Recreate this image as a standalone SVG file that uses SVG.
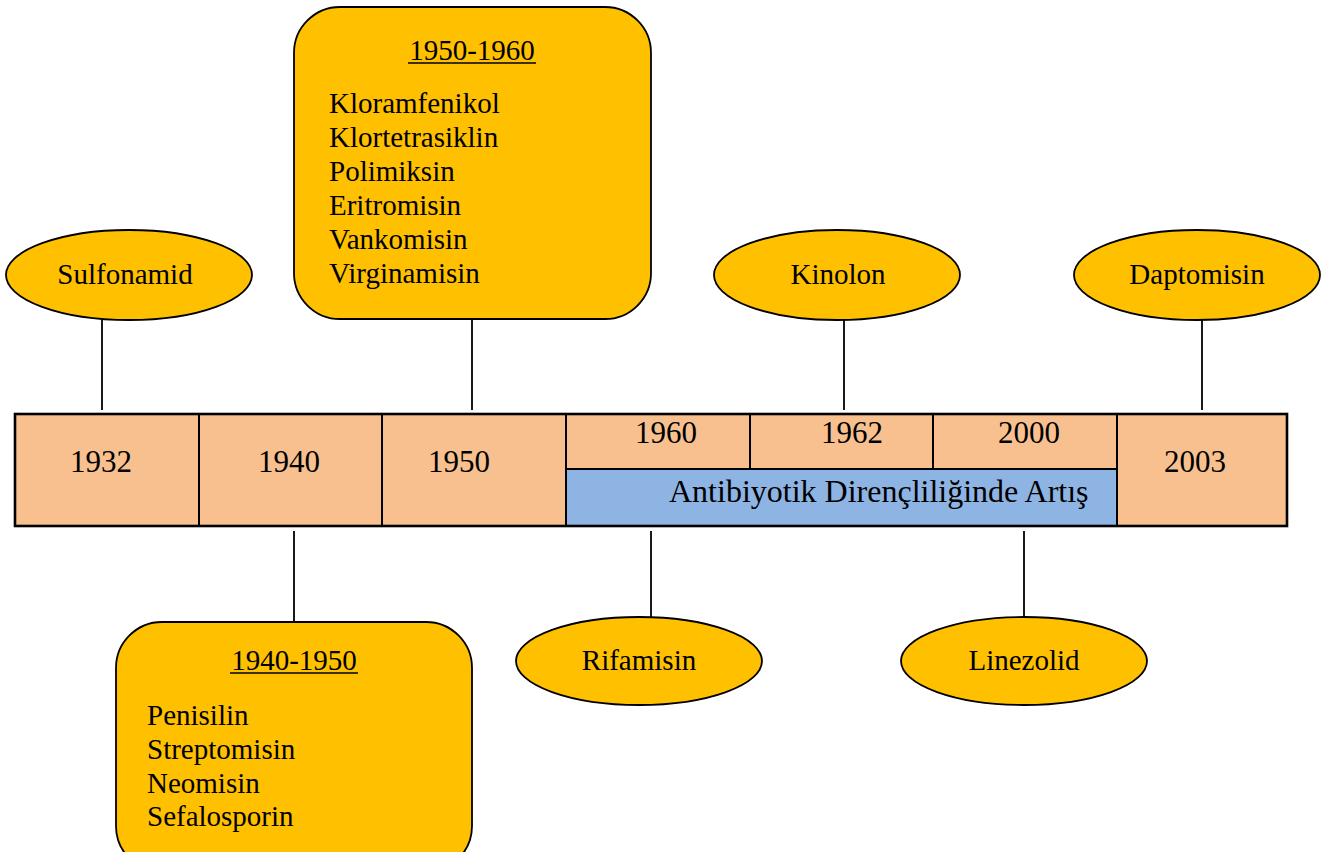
<svg xmlns="http://www.w3.org/2000/svg" width="1328" height="852" viewBox="0 0 1328 852">
<style>
text{font-family:"Liberation Serif","Times New Roman",serif;fill:#000}
.lbl{font-size:29px}
.yr{font-size:31px;text-anchor:middle}
.c{text-anchor:middle}
.gold{fill:#FFC000;stroke:#000;stroke-width:1.8}
.peach{fill:#F8C08F;stroke:#000;stroke-width:2}
.blue{fill:#8EB4E3;stroke:#000;stroke-width:2}
.conn line{stroke:#000;stroke-width:1.8}
</style>
<rect width="1328" height="852" fill="#fff"/>
<g class="conn" id="connectors">
<line x1="102" y1="320" x2="102" y2="410"/>
<line x1="472" y1="319" x2="472" y2="410"/>
<line x1="844" y1="320" x2="844" y2="410"/>
<line x1="1202" y1="320" x2="1202" y2="410"/>
<line x1="294" y1="531" x2="294" y2="622"/>
<line x1="651" y1="531" x2="651" y2="617"/>
<line x1="1024" y1="531" x2="1024" y2="617"/>
</g>
<g id="timeline">
<rect class="peach" x="15" y="414" width="184" height="112"/>
<rect class="peach" x="199" y="414" width="183" height="112"/>
<rect class="peach" x="382" y="414" width="184" height="112"/>
<rect class="peach" x="566" y="414" width="184" height="55"/>
<rect class="peach" x="750" y="414" width="183" height="55"/>
<rect class="peach" x="933" y="414" width="184" height="55"/>
<rect class="blue" x="566" y="469" width="551" height="57"/>
<rect class="peach" x="1117" y="414" width="170" height="112"/>
<rect x="15" y="414" width="1272" height="112" fill="none" stroke="#000" stroke-width="2.6"/>
<text class="yr" x="101" y="472">1932</text>
<text class="yr" x="289" y="472">1940</text>
<text class="yr" x="459" y="472">1950</text>
<text class="yr" x="666" y="443">1960</text>
<text class="yr" x="852" y="443">1962</text>
<text class="yr" x="1029" y="443">2000</text>
<text class="yr" x="1195" y="472">2003</text>
<text x="669" y="502" font-size="32">Antibiyotik Dirençliliğinde Artış</text>
</g>
<g id="sulfonamid">
<ellipse class="gold" cx="129" cy="275" rx="123" ry="45"/>
<text class="lbl c" x="125" y="284">Sulfonamid</text>
</g>
<g id="box1950">
<rect class="gold" x="294" y="7" width="357" height="312" rx="46" ry="46"/>
<text class="lbl c" x="472" y="60">1950-1960</text>
<line x1="408" y1="63" x2="536" y2="63" stroke="#000" stroke-width="1.6"/>
<text class="lbl" x="329" y="113">Kloramfenikol</text>
<text class="lbl" x="329" y="147">Klortetrasiklin</text>
<text class="lbl" x="329" y="181">Polimiksin</text>
<text class="lbl" x="329" y="215">Eritromisin</text>
<text class="lbl" x="329" y="249">Vankomisin</text>
<text class="lbl" x="329" y="283">Virginamisin</text>
</g>
<g id="kinolon">
<ellipse class="gold" cx="837" cy="275" rx="123" ry="45"/>
<text class="lbl c" x="838" y="284">Kinolon</text>
</g>
<g id="daptomisin">
<ellipse class="gold" cx="1197" cy="275" rx="123" ry="45"/>
<text class="lbl c" x="1197" y="284">Daptomisin</text>
</g>
<g id="box1940">
<rect class="gold" x="116" y="622" width="356" height="250" rx="46" ry="46"/>
<text class="lbl c" x="294" y="670">1940-1950</text>
<line x1="230" y1="673" x2="358" y2="673" stroke="#000" stroke-width="1.6"/>
<text class="lbl" x="147" y="725">Penisilin</text>
<text class="lbl" x="147" y="759">Streptomisin</text>
<text class="lbl" x="147" y="793">Neomisin</text>
<text class="lbl" x="147" y="826">Sefalosporin</text>
</g>
<g id="rifamisin">
<ellipse class="gold" cx="639" cy="661" rx="123" ry="44"/>
<text class="lbl c" x="639" y="670">Rifamisin</text>
</g>
<g id="linezolid">
<ellipse class="gold" cx="1024" cy="661" rx="123" ry="44"/>
<text class="lbl c" x="1024" y="670">Linezolid</text>
</g>
</svg>
